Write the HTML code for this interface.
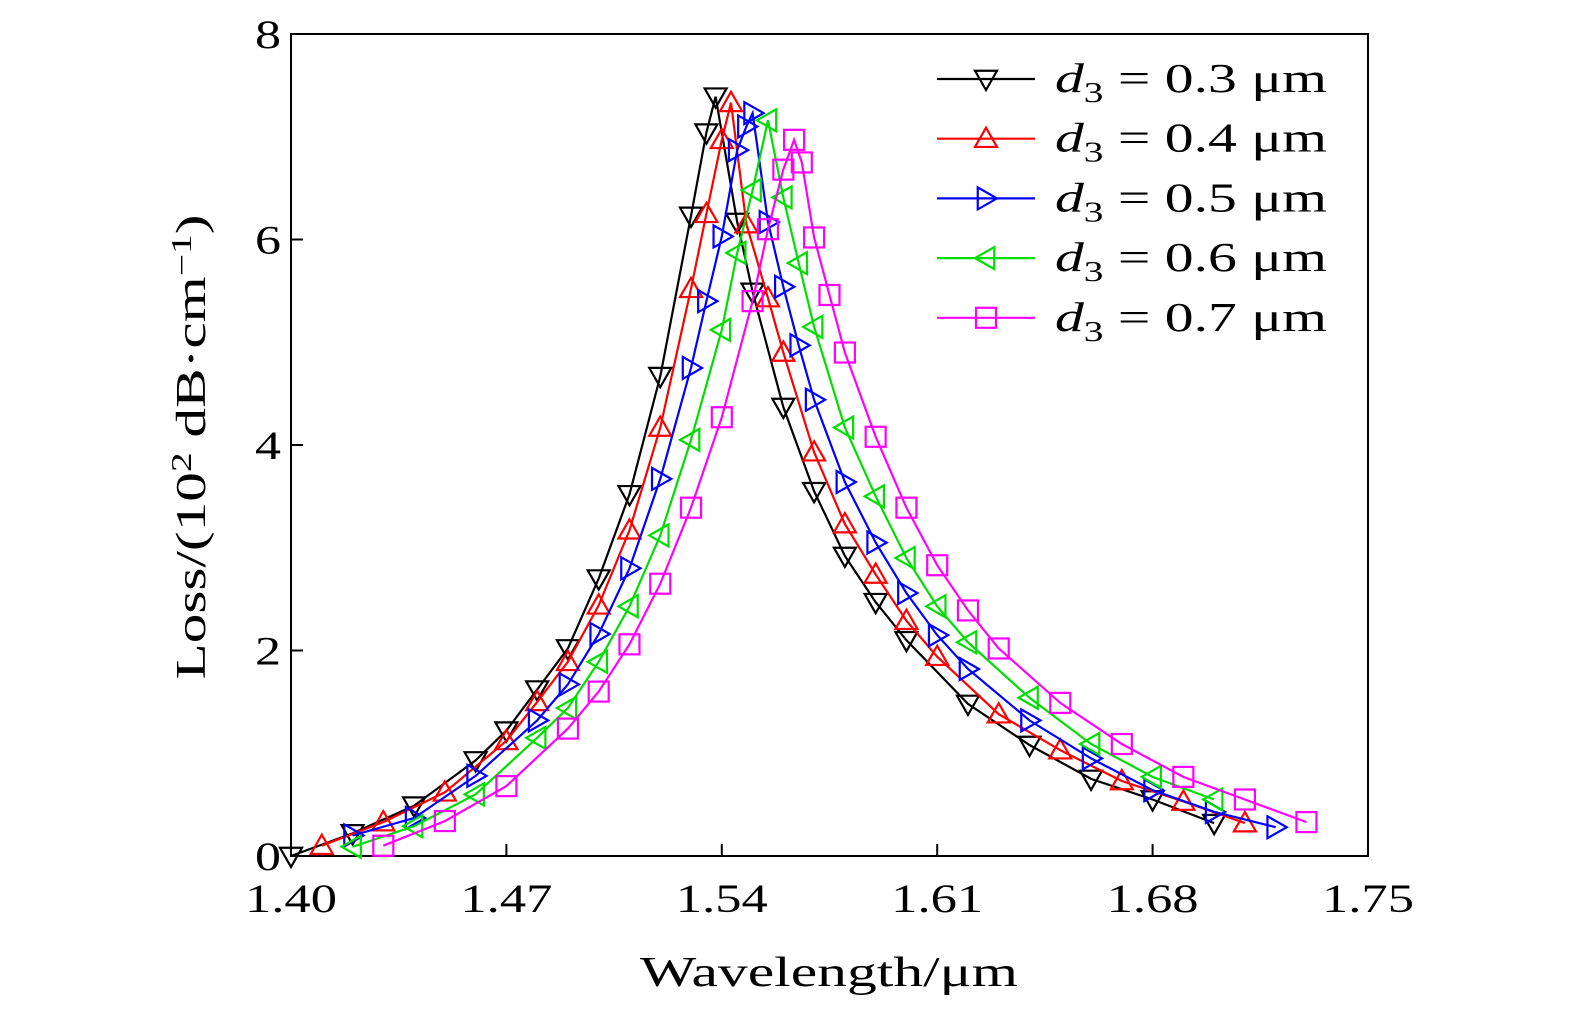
<!DOCTYPE html>
<html><head><meta charset="utf-8"><style>
html,body{margin:0;padding:0;background:#fff;}
svg{display:block;font-family:"Liberation Serif","DejaVu Serif",serif;}
</style></head><body>
<svg id="chart" width="1575" height="1014" viewBox="0 0 1575 1014"></svg>
<script>
const xTicks=[1.40,1.47,1.54,1.61,1.68,1.75];
const xTickLabels=["1.40","1.47","1.54","1.61","1.68","1.75"];
const yTicks=[0,2,4,6,8];
const yTickLabels=["0","2","4","6","8"];
const seriesNames=["0.3","0.4","0.5","0.6","0.7"];
const seriesColors=["#000000","#ff0000","#0000ff","#00dd00","#ff00ff"];
const seriesMarkers=["down","up","right","left","square"];
const x03=[1.40,1.42,1.44,1.46,1.47,1.48,1.49,1.50,1.51,1.52,1.53,1.535,1.538,1.545,1.55,1.56,1.57,1.58,1.59,1.60,1.62,1.64,1.66,1.68,1.70];
const y03=[0,0.22,0.49,0.93,1.22,1.62,2.02,2.70,3.52,4.67,6.23,7.04,7.39,6.17,5.49,4.37,3.55,2.92,2.47,2.10,1.48,1.08,0.75,0.55,0.32];
const x04=[1.41,1.43,1.45,1.47,1.48,1.49,1.50,1.51,1.52,1.53,1.535,1.54,1.543,1.548,1.555,1.56,1.57,1.58,1.59,1.60,1.61,1.63,1.65,1.67,1.69,1.71];
const y04=[0.10,0.33,0.62,1.12,1.50,1.89,2.44,3.17,4.17,5.52,6.25,6.97,7.33,6.15,5.43,4.90,3.93,3.23,2.74,2.29,1.94,1.38,1.03,0.73,0.53,0.32];
const x05=[1.42,1.44,1.46,1.48,1.49,1.50,1.51,1.52,1.53,1.535,1.54,1.545,1.548,1.55,1.555,1.56,1.565,1.57,1.58,1.59,1.60,1.61,1.62,1.64,1.66,1.68,1.70,1.72];
const y05=[0.20,0.37,0.78,1.32,1.67,2.16,2.80,3.67,4.75,5.40,6.03,6.87,7.10,7.23,6.17,5.54,4.97,4.44,3.64,3.05,2.56,2.15,1.82,1.32,0.95,0.64,0.43,0.28];
const x06=[1.42,1.44,1.46,1.48,1.49,1.50,1.51,1.52,1.53,1.54,1.545,1.55,1.555,1.56,1.565,1.57,1.58,1.59,1.60,1.61,1.62,1.64,1.66,1.68,1.70];
const y06=[0.09,0.29,0.60,1.15,1.44,1.89,2.43,3.12,4.05,5.12,5.87,6.48,7.16,6.41,5.77,5.15,4.17,3.50,2.90,2.43,2.08,1.54,1.09,0.77,0.55];
const x07=[1.43,1.45,1.47,1.49,1.50,1.51,1.52,1.53,1.54,1.55,1.555,1.56,1.5635,1.566,1.57,1.575,1.58,1.59,1.60,1.61,1.62,1.63,1.65,1.67,1.69,1.71,1.73];
const y07=[0.10,0.34,0.68,1.24,1.60,2.06,2.65,3.39,4.27,5.40,6.10,6.68,6.97,6.75,6.02,5.46,4.90,4.08,3.39,2.83,2.39,2.02,1.49,1.09,0.77,0.55,0.33];
const seriesX=[x03,x04,x05,x06,x07];
const seriesY=[y03,y04,y05,y06,y07];

const NS="http://www.w3.org/2000/svg";
const svg=document.getElementById("chart");
const L=291,R=1368,T=34,B=856;
const xS=v=>L+(v-1.40)/(1.75-1.40)*(R-L);
const yS=v=>B-(v/8)*(B-T);
function mk(tag,attrs,parent){const e=document.createElementNS(NS,tag);for(const k in attrs)e.setAttribute(k,attrs[k]);(parent||svg).appendChild(e);return e;}

const frame=mk("rect",{x:L,y:T,width:R-L,height:B-T,fill:"none",stroke:"#000","stroke-width":2});



xTicks.forEach((t,i)=>{
  const x=xS(t);
  const tk=mk("line",{x1:x,y1:B,x2:x,y2:B-12,stroke:"#000","stroke-width":2});
  
  
  const lb=mk("text",{x:x,y:B+56,"font-size":40,"text-anchor":"middle",textLength:92,lengthAdjust:"spacingAndGlyphs"});
  lb.textContent=xTickLabels[i];
  
  
});
yTicks.forEach((t,i)=>{
  const y=yS(t);
  const tk=mk("line",{x1:L,y1:y,x2:L+12,y2:y,stroke:"#000","stroke-width":2});
  
  
  const lb=mk("text",{x:L-10,y:y+14,"font-size":40,"text-anchor":"end",textLength:26,lengthAdjust:"spacingAndGlyphs"});
  lb.textContent=yTickLabels[i];
  
  
});

const xt=mk("text",{x:829,y:986,"font-size":42,"text-anchor":"middle",textLength:378,lengthAdjust:"spacingAndGlyphs"});
xt.textContent="Wavelength/μm";


const yt=mk("text",{x:0,y:0,"font-size":42,"text-anchor":"middle",textLength:465,lengthAdjust:"spacingAndGlyphs",transform:"translate(205,447) rotate(-90)"});
yt.innerHTML='Loss/(10<tspan dy="-14" font-size="28">2</tspan><tspan dy="14"> dB·cm</tspan><tspan dy="-14" font-size="28">−1</tspan><tspan dy="14">)</tspan>';



function marker(type,cx,cy,color,g){
  const s=11;let e;
  if(type==="square")e=mk("rect",{x:cx-s+1,y:cy-s+1,width:2*s-2,height:2*s-2},g);
  else{
    let p;
    if(type==="down")p=[[cx-s,cy-s*0.75],[cx+s,cy-s*0.75],[cx,cy+s]];
    if(type==="up")p=[[cx-s,cy+s*0.75],[cx+s,cy+s*0.75],[cx,cy-s]];
    if(type==="right")p=[[cx-s*0.75,cy-s],[cx-s*0.75,cy+s],[cx+s,cy]];
    if(type==="left")p=[[cx+s*0.75,cy-s],[cx+s*0.75,cy+s],[cx-s,cy]];
    e=mk("polygon",{points:p.map(q=>q.join(",")).join(" ")},g);
  }
  e.setAttribute("fill","none");e.setAttribute("stroke",color);e.setAttribute("stroke-width",2.2);
  return e;
}

seriesX.forEach((xs,si)=>{
  const g=mk("g",{});
  
  
  const pts=xs.map((x,i)=>xS(x).toFixed(1)+","+yS(seriesY[si][i]).toFixed(1)).join(" ");
  const pl=mk("polyline",{points:pts,fill:"none",stroke:seriesColors[si],"stroke-width":2.2},g);
  
  
  xs.forEach((x,i)=>{
    const m=marker(seriesMarkers[si],xS(x),yS(seriesY[si][i]),seriesColors[si],g);
    
    
  });
});

const lg=mk("g",{});


seriesNames.forEach((n,i)=>{
  const y=79+i*59.7;
  const ln=mk("line",{x1:937,y1:y,x2:1035,y2:y,stroke:seriesColors[i],"stroke-width":2.2},lg);
  
  
  const m=marker(seriesMarkers[i],986,y,seriesColors[i],lg);
  
  
  const t=mk("text",{x:1055,y:y+13,"font-size":41,textLength:272,lengthAdjust:"spacingAndGlyphs"},lg);
  t.innerHTML='<tspan font-style="italic">d</tspan><tspan dy="10" font-size="28">3</tspan><tspan dy="-10"> = '+n+' μm</tspan>';
  
  
});
</script>
</body></html>
